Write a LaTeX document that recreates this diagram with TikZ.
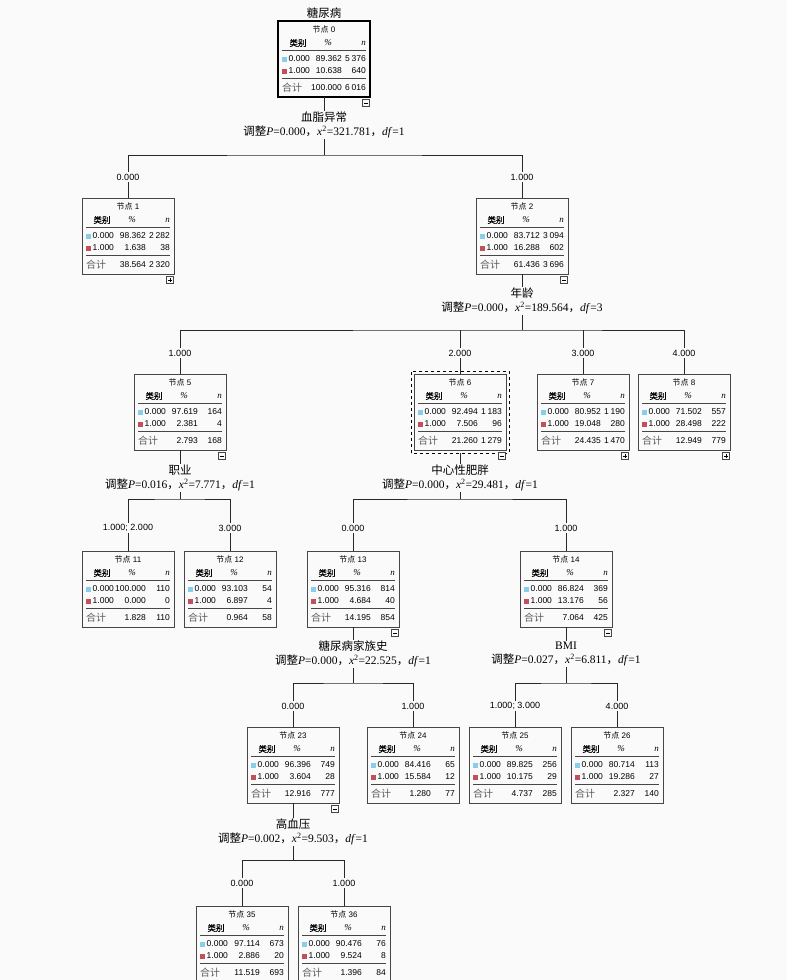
\documentclass[tikz,border=0pt]{standalone}
\usepackage{fontspec}
\setmainfont{Liberation Serif}
\setsansfont{Liberation Sans}
\newfontfamily\cjk{Noto Sans CJK SC}
\newfontfamily\cjkb[FakeBold=1]{Noto Sans CJK SC}
\usetikzlibrary{calc}
\definecolor{bg}{RGB}{250,250,250}
\definecolor{sqblue}{RGB}{135,206,235}
\definecolor{sqred}{RGB}{192,80,90}
\definecolor{boxgray}{RGB}{70,70,70}
\definecolor{edgecol}{RGB}{40,40,40}
\definecolor{totgray}{RGB}{90,90,90}
\newcommand{\ts}{\kern1.8pt}
\tikzset{
  tbox/.style={draw=boxgray, fill=bg, minimum width=92pt, minimum height=76pt, inner sep=0pt, outer sep=0pt, line width=0.8pt},
  ttl/.style={inner sep=0pt, font=\fontsize{8}{9}\selectfont\sffamily},
  hdr/.style={inner sep=0pt, font=\fontsize{9}{10}\selectfont\rmfamily},
  num/.style={inner sep=0pt, font=\fontsize{8.5}{10}\selectfont\sffamily},
  tot/.style={inner sep=0pt, text=totgray, font=\fontsize{10}{11}\selectfont},
  rule/.style={draw=boxgray, line width=0.9pt},
  conn/.style={draw=edgecol, line width=0.7pt},
  elab/.style={fill=bg, inner sep=1.5pt, font=\fontsize{9}{10}\selectfont\sffamily},
  split/.style={fill=bg, inner sep=1pt, align=center, font=\fontsize{11.5}{14}\selectfont\rmfamily},
  togbox/.style={draw=boxgray, fill=bg, minimum size=7pt, inner sep=0pt, line width=0.6pt},
}
% #1 cx, #2 top, #3 id, #4 p0, #5 n0, #6 p1, #7 n1, #8 ptot, #9 ntot
\newcommand{\tnode}[9]{%
  \node[tbox] (n#3) at ({#1},{#2+38}) {};
  \node[ttl] (t#3) at ({#1},{#2+8}) {{\cjk 节点}~#3};
  \node[hdr] (hc#3) at ({#1-26},{#2+22}) {\cjkb\fontsize{8.5}{9}\selectfont 类别};
  \node[hdr] (hp#3) at ({#1+4},{#2+22}) {\textit{\%}};
  \node[hdr,anchor=east] (hn#3) at ({#1+42},{#2+22}) {\textit{n}};
  \draw[rule] ({#1-42},{#2+29}) -- ({#1+42},{#2+29});
  \fill[sqblue] ({#1-42},{#2+35.5}) rectangle ++(5,5);
  \node[num,anchor=west] (a#3) at ({#1-35.5},{#2+38}) {0.000};
  \node[num,anchor=east] (b#3) at ({#1+18},{#2+38}) {#4};
  \node[num,anchor=east] (c#3) at ({#1+42},{#2+38}) {#5};
  \fill[sqred] ({#1-42},{#2+47.5}) rectangle ++(5,5);
  \node[num,anchor=west] (g#3) at ({#1-35.5},{#2+50}) {1.000};
  \node[num,anchor=east] (h#3) at ({#1+18},{#2+50}) {#6};
  \node[num,anchor=east] (i#3) at ({#1+42},{#2+50}) {#7};
  \draw[rule] ({#1-42},{#2+57}) -- ({#1+42},{#2+57});
  \node[tot,anchor=west] (d#3) at ({#1-42},{#2+67}) {\cjk 合计};
  \node[num,anchor=east] (e#3) at ({#1+18},{#2+67}) {#8};
  \node[num,anchor=east] (f#3) at ({#1+42},{#2+67}) {#9};
}
% toggle: #1 id, #2 1=plus 0=minus
\newcommand{\tog}[2]{%
  \node[togbox] (tg#1) at ($(n#1.south east)+(-4,6)$) {};
  \draw[line width=0.6pt] ($(tg#1.center)+(-2,0)$) -- ($(tg#1.center)+(2,0)$);
  \ifnum#2=1 \draw[line width=0.6pt] ($(tg#1.center)+(0,-2)$) -- ($(tg#1.center)+(0,2)$);\fi
}
\newcommand{\stat}[3]{{\cjk 调整}\textit{P}=#1{\cjk ，}\textit{x}\textsuperscript{2}=#2{\cjk ，}\textit{df}=#3}
\begin{document}
\begin{tikzpicture}[x=1pt,y=-1pt]
\fill[bg] (0,0) rectangle (787,980);
\useasboundingbox (0,0) rectangle (787,980);

\node[split] (title) at (324,13) {\cjk 糖尿病};

% nodes
\tnode{324}{21}{0}{89.362}{5\ts376}{10.638}{640}{100.000}{6\ts016}
\draw[line width=2pt, draw=black] (n0.south west) rectangle (n0.north east);
\tnode{128}{198}{1}{98.362}{2\ts282}{1.638}{38}{38.564}{2\ts320}
\tnode{522}{198}{2}{83.712}{3\ts094}{16.288}{602}{61.436}{3\ts696}
\tnode{180}{374}{5}{97.619}{164}{2.381}{4}{2.793}{168}
\tnode{460}{374}{6}{92.494}{1\ts183}{7.506}{96}{21.260}{1\ts279}
\draw[dashed, line width=0.7pt] ($(n6.south west)+(-3,3)$) rectangle ($(n6.north east)+(3,-3)$);
\tnode{583}{374}{7}{80.952}{1\ts190}{19.048}{280}{24.435}{1\ts470}
\tnode{684}{374}{8}{71.502}{557}{28.498}{222}{12.949}{779}
\tnode{128}{551}{11}{100.000}{110}{0.000}{0}{1.828}{110}
\tnode{230}{551}{12}{93.103}{54}{6.897}{4}{0.964}{58}
\tnode{353}{551}{13}{95.316}{814}{4.684}{40}{14.195}{854}
\tnode{566}{551}{14}{86.824}{369}{13.176}{56}{7.064}{425}
\tnode{293}{727}{23}{96.396}{749}{3.604}{28}{12.916}{777}
\tnode{413}{727}{24}{84.416}{65}{15.584}{12}{1.280}{77}
\tnode{515}{727}{25}{89.825}{256}{10.175}{29}{4.737}{285}
\tnode{617}{727}{26}{80.714}{113}{19.286}{27}{2.327}{140}
\tnode{242}{906}{35}{97.114}{673}{2.886}{20}{11.519}{693}
\tnode{344}{906}{36}{90.476}{76}{9.524}{8}{1.396}{84}

\tog{0}{0}
\tog{1}{1}
\tog{2}{0}
\tog{5}{0}
\tog{6}{0}
\tog{7}{1}
\tog{8}{1}
\tog{13}{0}
\tog{14}{0}
\tog{23}{0}

% split labels
\node[split] (s0) at (324,125) {{\cjk 血脂异常}\\\stat{0.000}{321.781}{1}};
\node[split] (s2) at (522,301) {{\cjk 年龄}\\\stat{0.000}{189.564}{3}};
\node[split] (s5) at (180,478) {{\cjk 职业}\\\stat{0.016}{7.771}{1}};
\node[split] (s6) at (460,478) {{\cjk 中心性肥胖}\\\stat{0.000}{29.481}{1}};
\node[split] (s13) at (353,654) {{\cjk 糖尿病家族史}\\\stat{0.000}{22.525}{1}};
\node[split] (s14) at (566,654) {BMI\\\stat{0.027}{6.811}{1}};
\node[split] (s23) at (293,832) {{\cjk 高血压}\\\stat{0.002}{9.503}{1}};

% bar coordinates
\coordinate (h0) at (324,155);
\coordinate (h2) at (522,330);
\coordinate (h5) at (180,499);
\coordinate (h6) at (460,499);
\coordinate (h13) at (353,683);
\coordinate (h14) at (566,683);
\coordinate (h23) at (293,860);

% connectors
\draw[conn] (n0.south) -- (s0.north);
\draw[conn] (s0.south) -- (h0);
\draw[conn] (n1.north) |- (h0) -| (n2.north);

\draw[conn] (n2.south) -- (s2.north);
\draw[conn] (s2.south) -- (h2);
\draw[conn] (n5.north) |- (h2) -| (n8.north);
\draw[conn] (n6.north) -- (n6.north |- h2);
\draw[conn] (n7.north) -- (n7.north |- h2);

\draw[conn] (n5.south) -- (s5.north);
\draw[conn] (s5.south) -- (h5);
\draw[conn] (n11.north) |- (h5) -| (n12.north);

\draw[conn] ($(n6.south)+(0,3)$) -- (s6.north);
\draw[conn] (s6.south) -- (h6);
\draw[conn] (n13.north) |- (h6) -| (n14.north);

\draw[conn] (n13.south) -- (s13.north);
\draw[conn] (s13.south) -- (h13);
\draw[conn] (n23.north) |- (h13) -| (n24.north);

\draw[conn] (n14.south) -- (s14.north);
\draw[conn] (s14.south) -- (h14);
\draw[conn] (n25.north) |- (h14) -| (n26.north);

\draw[conn] (n23.south) -- (s23.north);
\draw[conn] (s23.south) -- (h23);
\draw[conn] (n35.north) |- (h23) -| (n36.north);

% edge labels
\node[elab] (l1) at (128,177) {0.000};
\node[elab] (l2) at (522,177) {1.000};
\node[elab] (l5) at (180,353) {1.000};
\node[elab] (l6) at (460,353) {2.000};
\node[elab] (l7) at (583,353) {3.000};
\node[elab] (l8) at (684,353) {4.000};
\node[elab] (l11) at (128,528) {1.000; 2.000};
\node[elab] (l12) at (230,528) {3.000};
\node[elab] (l13) at (353,528) {0.000};
\node[elab] (l14) at (566,528) {1.000};
\node[elab] (l23) at (293,706) {0.000};
\node[elab] (l24) at (413,706) {1.000};
\node[elab] (l25) at (515,706) {1.000; 3.000};
\node[elab] (l26) at (617,706) {4.000};
\node[elab] (l35) at (242,883) {0.000};
\node[elab] (l36) at (344,883) {1.000};
\end{tikzpicture}
\end{document}
